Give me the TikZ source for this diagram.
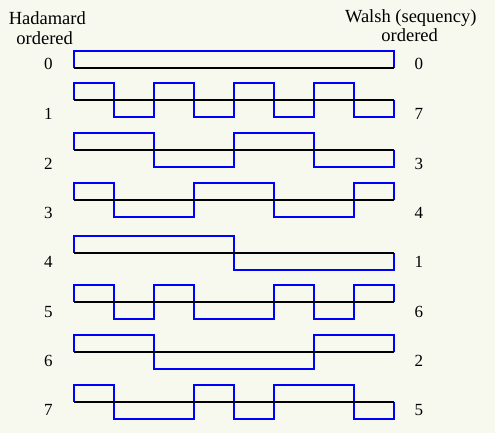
\documentclass[tikz,border=0pt]{standalone}
\usepackage{fontspec}
\setmainfont{Liberation Serif}
\definecolor{bgcol}{RGB}{247,249,239}
\definecolor{wavecol}{RGB}{0,0,255}
\begin{document}
\begin{tikzpicture}[x=1pt,y=-1pt,
  hdr/.style={font=\fontsize{18.5}{20}\selectfont, anchor=base, inner sep=0pt},
  num/.style={font=\fontsize{17}{19}\selectfont, anchor=base, inner sep=0pt},
  wave/.style={draw=wavecol, line width=2pt, line join=miter},
  axisline/.style={draw=black, line width=2pt}]
\fill[bgcol] (0,0) rectangle (495,433);
\useasboundingbox (0,0) rectangle (495,433);
% headers
\node[hdr] (hh) at (47.3,25) {Hadamard};
\node[hdr] (ho) at (44.7,44.3) {ordered};
\node[hdr] (wh) at (410.8,22.7) {Walsh (sequency)};
\node[hdr] (wo) at (409.7,41.7) {ordered};
% rows: axis y, signs, left label, right label, label baseline
\foreach \ay/\signs/\hl/\wl/\lb [count=\r from 0] in {
  68.5/{1,1,1,1,1,1,1,1}/0/0/69.3,
  100/{1,-1,1,-1,1,-1,1,-1}/1/7/119.3,
  150/{1,1,-1,-1,1,1,-1,-1}/2/3/169.3,
  200/{1,-1,-1,1,1,-1,-1,1}/3/4/218.3,
  252.5/{1,1,1,1,-1,-1,-1,-1}/4/1/267.3,
  302/{1,-1,1,-1,-1,1,-1,1}/5/6/317,
  352/{1,1,-1,-1,-1,-1,1,1}/6/2/366,
  402/{1,-1,-1,1,-1,1,1,-1}/7/5/415.3} {
  \draw[wave] (74,\ay) \foreach \s [count=\i from 0] in \signs {
      -- ({74+40*\i},{\ay-17*\s}) -- ({114+40*\i},{\ay-17*\s}) } -- (394,\ay);
  \coordinate (a\r s) at (74,\ay);
  \coordinate (a\r e) at (394,\ay);
  \draw[axisline] (a\r s) -- (a\r e);
  \node[num] (h\r) at (48.3,\lb) {\hl};
  \node[num] (w\r) at (418.8,\lb) {\wl};
}
\end{tikzpicture}
\end{document}
